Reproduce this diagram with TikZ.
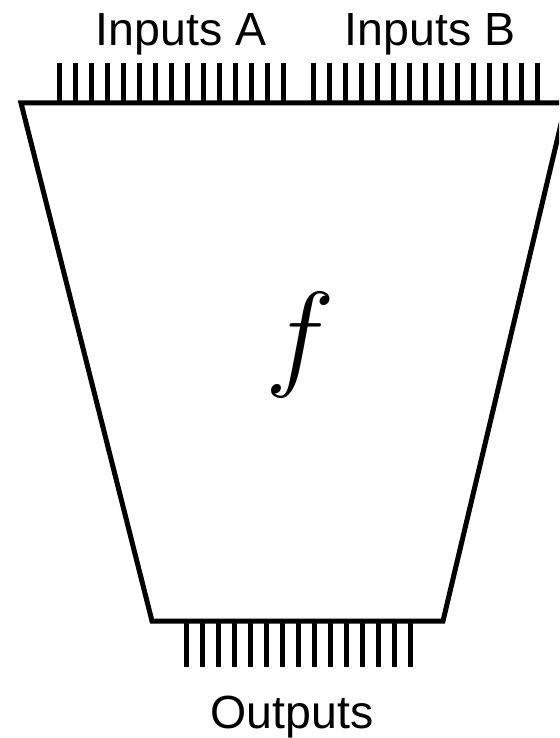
\RequirePackage{fix-cm}
\documentclass[tikz,border=0pt]{standalone}
\usepackage{fontspec}
\setmainfont{Liberation Sans}
\usetikzlibrary{positioning}

\begin{document}
\begin{tikzpicture}[x=1pt, y=-1pt, line width=5pt,
    pinline/.style={line width=5pt, line cap=butt},
    portlabel/.style={font=\fontsize{46.5}{56}\selectfont, inner sep=0pt, anchor=base}]
  \useasboundingbox (0,0) rectangle (559,738);
  \clip (0,0) rectangle (559,738);

  % Block body
  \coordinate (tl) at (21,103);
  \coordinate (tr) at (566,103);
  \coordinate (br) at (443,621);
  \coordinate (bl) at (152,621);
  \draw (tl) -- (tr) -- (br) -- (bl) -- cycle;
  \node[inner sep=0pt] (func) at (300,345) {\fontsize{118}{128}\selectfont$f$};

  % Input pins
  \foreach \i in {0,...,14} {
    \draw[pinline] (59+16*\i,63) -- (59+16*\i,103);
    \draw[pinline] (313+16.07*\i,63) -- (313+16.07*\i,103);
  }
  \node[portlabel] (inA) at (181,46) {Inputs A};
  \node[portlabel] (inB) at (430,46) {Inputs B};

  % Output pins
  \foreach \i in {0,...,14}
    \draw[pinline] (186+16.07*\i,621) -- (186+16.07*\i,667);
  \node[portlabel] (outs) at (292,728) {Outputs};
\end{tikzpicture}
\end{document}
